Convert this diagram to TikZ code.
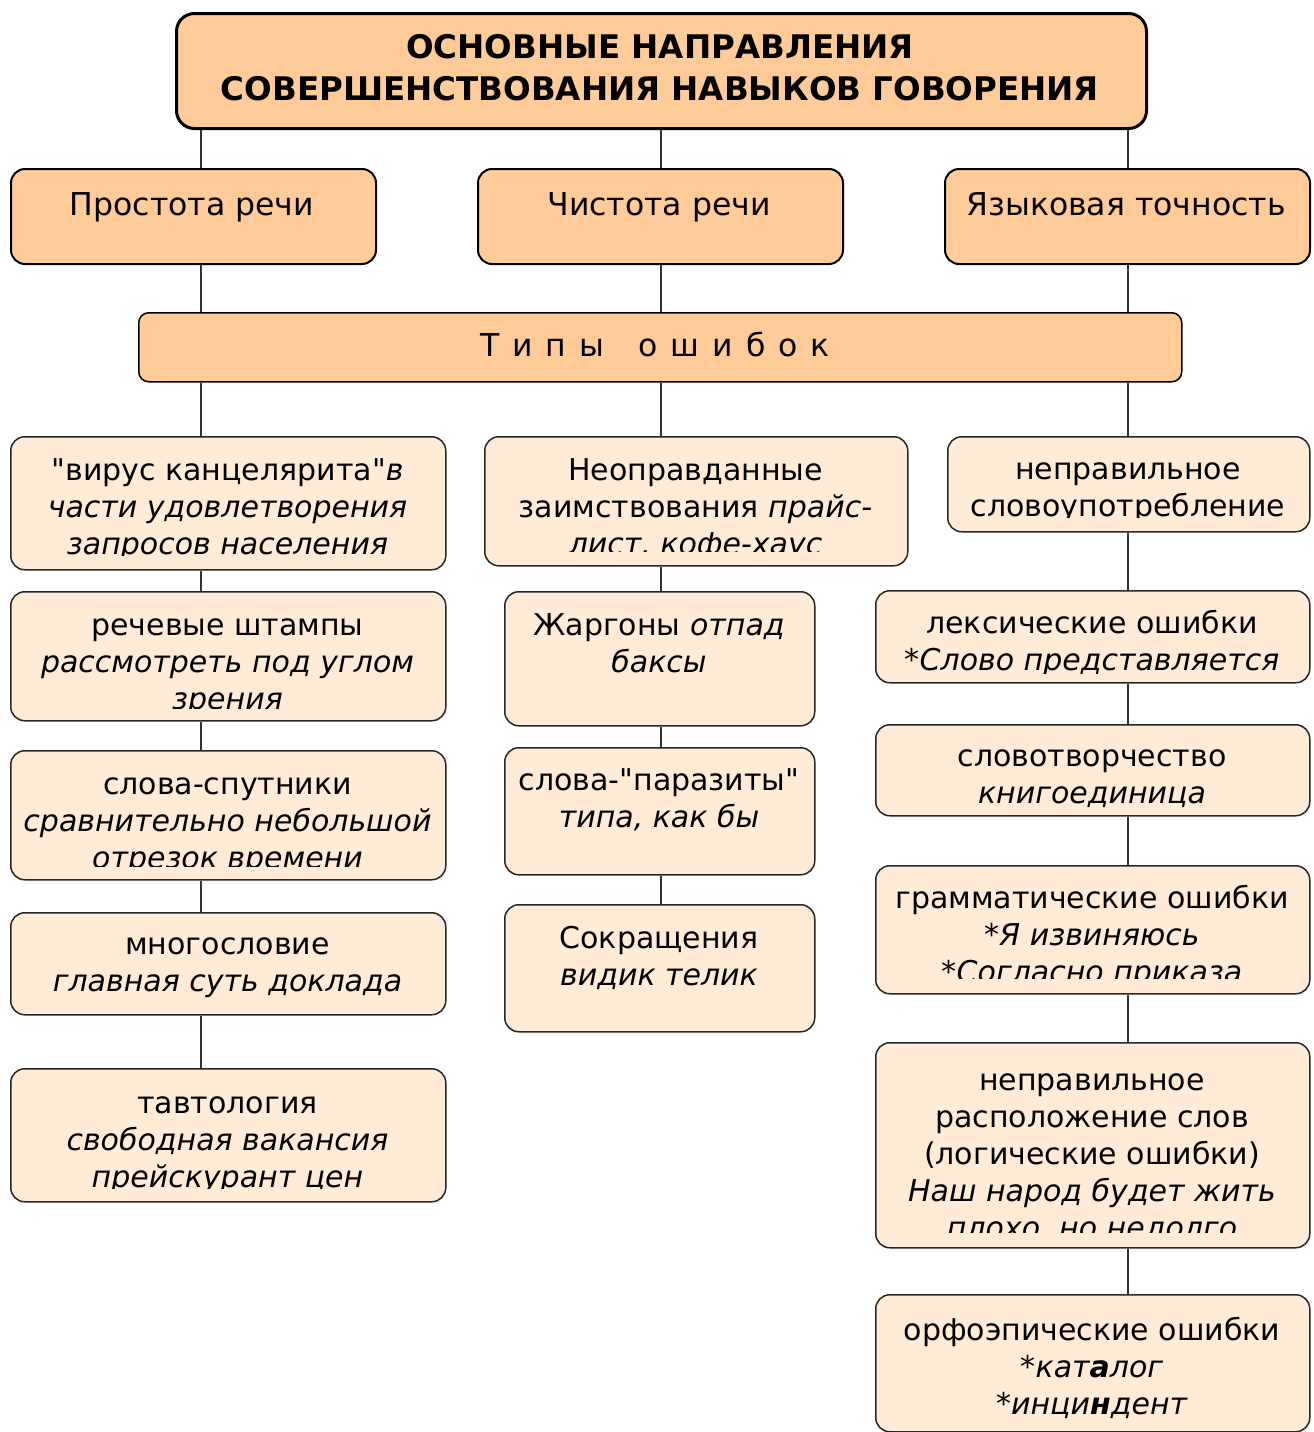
\documentclass[tikz,border=0pt]{standalone}
\usepackage{fontspec}
\setmainfont{DejaVu Sans}
\newfontfamily\plainfont{DejaVu Sans}
\definecolor{hfill}{RGB}{255,204,153}
\definecolor{efill}{RGB}{255,235,214}
\newcommand\qq{{\plainfont"}}
% name, x1, y1, x2, y2, first baseline, clip y, text
\newcommand\ebx[8]{%
  \node[ebox, minimum width={#4-#2}, minimum height={#5-#3}] (#1) at (#2,#3) {};
  \begin{scope}
    \clip (#2+3,#3+3) rectangle (#4-3,#7);
    \node[txt] at ({(#2+#4)/2},#6-32) {\rule{0pt}{32pt}#8};
  \end{scope}}
\begin{document}
\begin{tikzpicture}[x=1pt,y=-1pt,
  hbox/.style={draw=black, line width=2pt, fill=hfill, rounded corners=14pt, anchor=north west, inner sep=0pt},
  ebox/.style={draw=black!85, line width=1.5pt, fill=efill, rounded corners=14pt, anchor=north west, inner sep=0pt},
  txt/.style={font=\fontsize{30}{37}\selectfont, align=center, inner sep=0pt, anchor=north, text=black},
  htxt/.style={txt, font=\fontsize{31.5}{37}\selectfont},
  conn/.style={draw=black!80, line width=1.5pt}]
\useasboundingbox (0,0) rectangle (1314,1432);
\coordinate (cL) at (201,0);
\coordinate (cC) at (661,0);
\coordinate (cR) at (1128,0);
% title
\node[hbox, line width=3pt, rounded corners=18pt, minimum width=970, minimum height=115] (title) at (175,12) {};
\node[txt, font=\fontsize{32.5}{42}\selectfont\bfseries] at (660,58-32) {\rule{0pt}{32pt}ОСНОВНЫЕ НАПРАВЛЕНИЯ\\СОВЕРШЕНСТВОВАНИЯ НАВЫКОВ ГОВОРЕНИЯ};
% second row
\node[hbox, minimum width=365, minimum height=95] (h1) at (10,168) {};
\node[htxt] at (192,215-32) {\rule{0pt}{32pt}Простота речи};
\node[hbox, minimum width=365, minimum height=95] (h2) at (477,168) {};
\node[htxt] at (659,215-32) {\rule{0pt}{32pt}Чистота речи};
\node[hbox, minimum width=365, minimum height=95] (h3) at (944,168) {};
\node[htxt] at (1126,215-32) {\rule{0pt}{32pt}Языковая точность};
% types
\node[hbox, line width=1.5pt, rounded corners=10pt, minimum width=1043, minimum height=69] (types) at (138,312) {};
\node[htxt] at (655,356-32) {\rule{0pt}{32pt}Т\hspace{13pt}и\hspace{13pt}п\hspace{13pt}ы\hspace{34pt}о\hspace{13pt}ш\hspace{13pt}и\hspace{13pt}б\hspace{13pt}о\hspace{13pt}к};
% left column
\ebx{l1}{10}{436}{445}{569}{480}{555}{\qq вирус канцелярита\qq\textit{в}\\ \textit{части удовлетворения}\\ \textit{запросов населения}}
\ebx{l2}{10}{591}{445}{720}{635}{708}{речевые штампы\\ \textit{рассмотреть под углом}\\ \textit{зрения}}
\ebx{l3}{10}{750}{445}{879}{794}{866}{слова-спутники\\ \textit{сравнительно небольшой}\\ \textit{отрезок времени}}
\ebx{l4}{10}{912}{445}{1014}{954}{1005}{многословие\\ \textit{главная суть доклада}}
\ebx{l5}{10}{1068}{445}{1201}{1113}{1188}{тавтология\\ \textit{свободная вакансия}\\ \textit{прейскурант цен}}
% center column
\ebx{c1}{484}{436}{907}{565}{480}{551}{Неоправданные\\ заимствования \textit{прайс-}\\ \textit{лист, кофе-хаус}}
\ebx{c2}{504}{591}{814}{725}{635}{715}{Жаргоны \textit{отпад}\\ \textit{баксы}}
\ebx{c3}{504}{747}{814}{874}{790}{865}{слова-\qq паразиты\qq\\ \textit{типа, как бы}}
\ebx{c4}{504}{904}{814}{1031}{948}{1020}{Сокращения\\ \textit{видик телик}}
% right column
\ebx{r1}{947}{436}{1309}{531}{479}{517}{неправильное\\ словоупотребление}
\ebx{r2}{875}{590}{1309}{682}{633}{673}{лексические ошибки\\ *\textit{Слово представляется}}
\ebx{r3}{875}{724}{1309}{815}{766}{807}{словотворчество\\ \textit{книгоединица}}
\ebx{r4}{875}{865}{1309}{993}{908}{978}{грамматические ошибки\\ *\textit{Я извиняюсь}\\ *\textit{Согласно приказа}}
\ebx{r5}{875}{1042}{1309}{1247}{1090}{1232}{неправильное\\ расположение слов\\ (логические ошибки)\\ \textit{Наш народ будет жить}\\ \textit{плохо, но недолго}}
\ebx{r6}{875}{1294}{1309}{1431}{1340}{1428}{орфоэпические ошибки\\ *\textit{кат\textbf{а}лог}\\ *\textit{инци\textbf{н}дент}}
% connectors
\foreach \c in {cL,cC,cR}{
  \draw[conn] (title.south -| \c) -- (h1.north -| \c);
  \draw[conn] (h1.south -| \c) -- (types.north -| \c);
}
\draw[conn] (types.south -| cL) -- (l1.north -| cL);
\draw[conn] (l1.south -| cL) -- (l2.north -| cL);
\draw[conn] (l2.south -| cL) -- (l3.north -| cL);
\draw[conn] (l3.south -| cL) -- (l4.north -| cL);
\draw[conn] (l4.south -| cL) -- (l5.north -| cL);
\draw[conn] (types.south -| cC) -- (c1.north -| cC);
\draw[conn] (c1.south -| cC) -- (c2.north -| cC);
\draw[conn] (c2.south -| cC) -- (c3.north -| cC);
\draw[conn] (c3.south -| cC) -- (c4.north -| cC);
\draw[conn] (types.south -| cR) -- (r1.north -| cR);
\draw[conn] (r1.south -| cR) -- (r2.north -| cR);
\draw[conn] (r2.south -| cR) -- (r3.north -| cR);
\draw[conn] (r3.south -| cR) -- (r4.north -| cR);
\draw[conn] (r4.south -| cR) -- (r5.north -| cR);
\draw[conn] (r5.south -| cR) -- (r6.north -| cR);
\end{tikzpicture}
\end{document}
